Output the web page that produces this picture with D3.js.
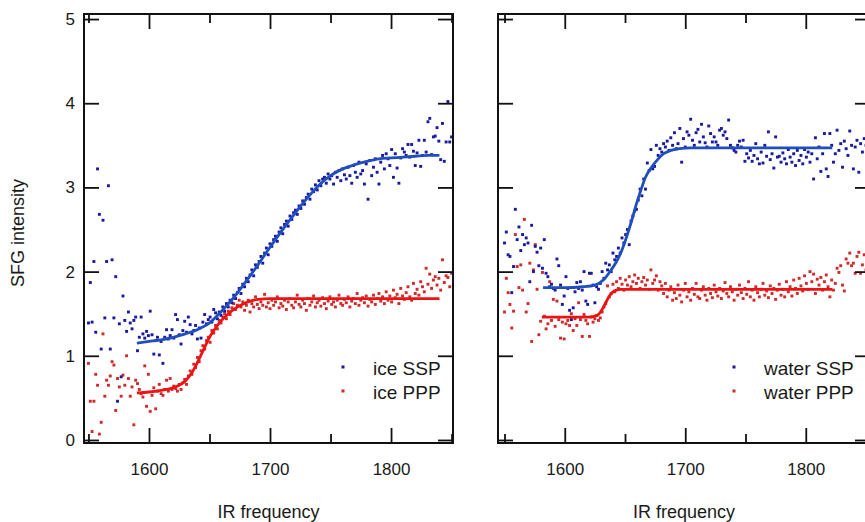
<!DOCTYPE html>
<html>
<head>
<meta charset="utf-8">
<script src="https://cdn.jsdelivr.net/npm/d3@7"></script>
<style>body{margin:0;background:#fff}</style>
</head>
<body>
<div id="chart"></div>
<script>
// measured points, [IR frequency, SFG intensity]
var iceSSP = [
 [1550,1.39],[1551.5,1.87],[1553,1.40],[1554.5,2.12],[1556,1.28],[1557.5,3.22],[1559,2.68],[1560.5,1.08],[1562,2.61],[1563.5,1.45],
 [1565,2.12],[1566.5,3.02],[1568,1.08],[1569.5,2.14],[1571,1.45],[1572.5,1.94],[1574,0.46],[1575.5,1.38],[1577,0.75],[1578.5,1.71],
 [1580,1.42],[1581.5,1.29],[1583,1.52],[1584.5,1.39],[1586,1.32],[1587.5,1.42],[1589,1.46],[1590.5,1.06],[1592,1.22],[1593.5,1.46],
 [1595,1.26],[1596.5,1.21],[1598,1.29],[1599.5,1.24],[1601,1.53],[1602.5,1.25],[1604,1.02],[1605.5,1.18],[1607,1.22],[1608.5,1.01],
 [1610,1.17],[1611.5,0.91],[1613,1.22],[1614.5,1.31],[1616,1.20],[1617.5,1.24],[1619,1.31],[1620.5,1.21],[1622,1.49],[1623.5,1.43],
 [1625,1.25],[1626.5,1.14],[1628,1.30],[1629.5,1.41],[1631,1.28],[1632.5,1.46],[1634,1.37],[1635.5,1.26],[1637,1.30],[1638.5,1.36],
 [1640,1.20],[1641.5,1.33],[1643,1.21],[1644.5,1.40],[1646,1.49],[1647.5,1.38],[1649,1.43],[1650.5,1.46],[1652,1.40],[1653.5,1.55],
 [1655,1.51],[1656.5,1.44],[1658,1.52],[1659.5,1.48],[1661,1.58],[1662.5,1.53],[1664,1.62],[1665.5,1.58],[1667,1.66],[1668.5,1.63],
 [1670,1.72],[1671.5,1.68],[1673,1.75],[1674.5,1.80],[1676,1.74],[1677.5,1.85],[1679,1.82],[1680.5,1.92],[1682,1.88],[1683.5,1.96],
 [1685,2.02],[1686.5,1.95],[1688,2.08],[1689.5,2.05],[1691,2.12],[1692.5,2.18],[1694,2.10],[1695.5,2.22],[1697,2.28],[1698.5,2.20],
 [1700,2.33],[1701.5,2.30],[1703,2.38],[1704.5,2.42],[1706,2.36],[1707.5,2.47],[1709,2.52],[1710.5,2.45],[1712,2.56],[1713.5,2.60],
 [1715,2.54],[1716.5,2.66],[1718,2.62],[1719.5,2.70],[1721,2.73],[1722.5,2.68],[1724,2.78],[1725.5,2.75],[1727,2.84],[1728.5,2.80],
 [1730,2.88],[1731.5,2.92],[1733,2.86],[1734.5,2.98],[1736,2.95],[1737.5,3.03],[1739,2.97],[1740.5,3.08],[1742,3.02],[1743.5,3.10],
 [1745,3.12],[1746.5,3.05],[1748,3.16],[1749.5,3.10],[1751,3.14],[1752.5,3.04],[1754,3.18],[1755.5,3.12],[1757,3.20],[1758.5,3.08],
 [1760,3.22],[1761.5,3.15],[1763,3.10],[1764.5,3.24],[1766,3.14],[1767.5,3.05],[1769,3.26],[1770.5,3.18],[1772,3.12],[1773.5,3.30],
 [1775,3.16],[1776.5,3.20],[1778,3.04],[1779.5,3.28],[1781,2.86],[1782.5,3.32],[1784,3.14],[1785.5,3.24],[1787,3.34],[1788.5,3.18],
 [1790,3.04],[1791.5,3.30],[1793,3.38],[1794.5,3.22],[1796,3.40],[1797.5,3.34],[1799,3.26],[1800.5,3.45],[1802,3.12],[1803.5,3.40],
 [1805,3.23],[1806.5,3.05],[1808,3.35],[1809.5,3.46],[1811,3.42],[1812.5,3.38],[1814,3.51],[1815.5,3.36],[1817,3.51],[1818.5,3.43],
 [1820,3.26],[1821.5,3.41],[1823,3.56],[1824.5,3.25],[1826,3.38],[1827.5,3.56],[1829,3.42],[1830.5,3.78],[1832,3.82],[1833.5,3.39],
 [1835,3.60],[1836.5,3.61],[1838,3.71],[1839.5,3.55],[1841,3.33],[1842.5,3.76],[1844,3.31],[1845.5,3.54],[1847,4.02],[1848.5,3.54],
 [1850,3.60]
];
var icePPP = [
 [1550,0.91],[1551.5,0.46],[1553,0.10],[1554.5,0.46],[1556,0.78],[1557.5,0.65],[1559,0.07],[1560.5,0.21],[1562,1.26],[1563.5,0.52],
 [1565,0.71],[1566.5,0.65],[1568,0.76],[1569.5,0.93],[1571,0.89],[1572.5,0.35],[1574,0.73],[1575.5,0.63],[1577,0.52],[1578.5,0.77],
 [1580,0.65],[1581.5,1.00],[1583,0.73],[1584.5,0.52],[1586,0.63],[1587.5,0.18],[1589,0.71],[1590.5,0.67],[1592,0.60],[1593.5,0.55],
 [1595,0.51],[1596.5,0.88],[1598,0.40],[1599.5,0.78],[1601,0.34],[1602.5,0.53],[1604,0.62],[1605.5,0.37],[1607,0.58],[1608.5,0.66],
 [1610,0.55],[1611.5,0.53],[1613,0.60],[1614.5,0.71],[1616,0.58],[1617.5,0.73],[1619,0.60],[1620.5,0.64],[1622,0.61],[1623.5,0.58],
 [1625,0.66],[1626.5,0.60],[1628,0.68],[1629.5,0.72],[1631,0.66],[1632.5,0.76],[1634,0.82],[1635.5,0.78],[1637,0.90],[1638.5,0.86],
 [1640,0.98],[1641.5,0.93],[1643,1.06],[1644.5,1.12],[1646,1.08],[1647.5,1.18],[1649,1.22],[1650.5,1.16],[1652,1.30],[1653.5,1.27],
 [1655,1.36],[1656.5,1.32],[1658,1.42],[1659.5,1.39],[1661,1.46],[1662.5,1.50],[1664,1.44],[1665.5,1.53],[1667,1.49],[1668.5,1.57],
 [1670,1.62],[1671.5,1.55],[1673,1.60],[1674.5,1.66],[1676,1.58],[1677.5,1.64],[1679,1.54],[1680.5,1.60],[1682,1.66],[1683.5,1.52],
 [1685,1.62],[1686.5,1.58],[1688,1.70],[1689.5,1.61],[1691,1.56],[1692.5,1.64],[1694,1.60],[1695.5,1.73],[1697,1.58],[1698.5,1.63],
 [1700,1.56],[1701.5,1.66],[1703,1.60],[1704.5,1.64],[1706,1.70],[1707.5,1.57],[1709,1.62],[1710.5,1.59],[1712,1.66],[1713.5,1.55],
 [1715,1.64],[1716.5,1.68],[1718,1.60],[1719.5,1.57],[1721,1.64],[1722.5,1.72],[1724,1.61],[1725.5,1.58],[1727,1.66],[1728.5,1.62],
 [1730,1.54],[1731.5,1.68],[1733,1.60],[1734.5,1.64],[1736,1.71],[1737.5,1.58],[1739,1.63],[1740.5,1.66],[1742,1.59],[1743.5,1.69],
 [1745,1.62],[1746.5,1.56],[1748,1.65],[1749.5,1.70],[1751,1.61],[1752.5,1.64],[1754,1.58],[1755.5,1.66],[1757,1.72],[1758.5,1.62],
 [1760,1.60],[1761.5,1.67],[1763,1.63],[1764.5,1.70],[1766,1.58],[1767.5,1.65],[1769,1.68],[1770.5,1.62],[1772,1.74],[1773.5,1.60],
 [1775,1.66],[1776.5,1.69],[1778,1.63],[1779.5,1.71],[1781,1.59],[1782.5,1.67],[1784,1.64],[1785.5,1.72],[1787,1.61],[1788.5,1.68],
 [1790,1.74],[1791.5,1.65],[1793,1.70],[1794.5,1.62],[1796,1.76],[1797.5,1.66],[1799,1.71],[1800.5,1.64],[1802,1.78],[1803.5,1.69],
 [1805,1.73],[1806.5,1.62],[1808,1.80],[1809.5,1.71],[1811,1.67],[1812.5,1.75],[1814,1.82],[1815.5,1.70],[1817,1.66],[1818.5,1.86],
 [1820,1.74],[1821.5,1.79],[1823,1.72],[1824.5,1.88],[1826,1.82],[1827.5,1.76],[1829,2.04],[1830.5,1.85],[1832,1.97],[1833.5,1.80],
 [1835,1.90],[1836.5,1.94],[1838,1.84],[1839.5,1.92],[1841,1.78],[1842.5,2.14],[1844,1.87],[1845.5,1.95],[1847,1.93],[1848.5,1.82],
 [1850,1.98]
];
var waterSSP = [
 [1550,2.34],[1551.5,2.47],[1553,2.20],[1554.5,2.18],[1556,1.75],[1557.5,2.06],[1559,2.74],[1560.5,2.38],[1562,2.53],[1563.5,2.25],
 [1565,2.44],[1566.5,2.32],[1568,2.40],[1569.5,2.34],[1571,1.88],[1572.5,2.55],[1574,2.00],[1575.5,2.30],[1577,2.23],[1578.5,2.07],
 [1580,2.28],[1581.5,2.04],[1583,2.38],[1584.5,1.98],[1586,1.94],[1587.5,1.82],[1589,1.85],[1590.5,1.80],[1592,1.78],[1593.5,2.15],
 [1595,2.07],[1596.5,1.84],[1598,1.61],[1599.5,1.71],[1601,1.94],[1602.5,1.80],[1604,1.54],[1605.5,1.43],[1607,1.57],[1608.5,1.76],
 [1610,1.87],[1611.5,1.80],[1613,1.88],[1614.5,1.78],[1616,2.00],[1617.5,1.65],[1619,1.61],[1620.5,1.98],[1622,1.98],[1623.5,1.84],
 [1625,1.63],[1626.5,1.82],[1628,1.79],[1629.5,1.86],[1631,2.00],[1632.5,1.92],[1634,2.10],[1635.5,2.02],[1637,2.08],[1638.5,2.00],
 [1640,2.22],[1641.5,2.14],[1643,2.18],[1644.5,2.28],[1646,2.22],[1647.5,2.40],[1649,2.34],[1650.5,2.44],[1652,2.50],[1653.5,2.32],
 [1655,2.60],[1656.5,2.66],[1658,2.72],[1659.5,2.74],[1661,2.85],[1662.5,2.98],[1664,2.90],[1665.5,3.10],[1667,2.98],[1668.5,3.29],
 [1670,3.20],[1671.5,3.45],[1673,3.22],[1674.5,3.25],[1676,3.50],[1677.5,3.38],[1679,3.46],[1680.5,3.42],[1682,3.52],[1683.5,3.48],
 [1685,3.55],[1686.5,3.44],[1688,3.59],[1689.5,3.50],[1691,3.65],[1692.5,3.46],[1694,3.52],[1695.5,3.70],[1697,3.30],[1698.5,3.58],
 [1700,3.48],[1701.5,3.66],[1703,3.62],[1704.5,3.81],[1706,3.56],[1707.5,3.50],[1709,3.65],[1710.5,3.69],[1712,3.54],[1713.5,3.75],
 [1715,3.60],[1716.5,3.53],[1718,3.48],[1719.5,3.73],[1721,3.64],[1722.5,3.54],[1724,3.60],[1725.5,3.54],[1727,3.50],[1728.5,3.68],
 [1730,3.70],[1731.5,3.62],[1733,3.66],[1734.5,3.58],[1736,3.80],[1737.5,3.50],[1739,3.47],[1740.5,3.44],[1742,3.42],[1743.5,3.50],
 [1745,3.55],[1746.5,3.48],[1748,3.56],[1749.5,3.31],[1751,3.40],[1752.5,3.35],[1754,3.44],[1755.5,3.31],[1757,3.38],[1758.5,3.52],
 [1760,3.34],[1761.5,3.28],[1763,3.42],[1764.5,3.29],[1766,3.50],[1767.5,3.37],[1769,3.66],[1770.5,3.33],[1772,3.40],[1773.5,3.23],
 [1775,3.60],[1776.5,3.36],[1778,3.37],[1779.5,3.30],[1781,3.41],[1782.5,3.34],[1784,3.28],[1785.5,3.45],[1787,3.36],[1788.5,3.30],
 [1790,3.40],[1791.5,3.26],[1793,3.44],[1794.5,3.32],[1796,3.38],[1797.5,3.28],[1799,3.45],[1800.5,3.36],[1802,3.42],[1803.5,3.30],
 [1805,3.40],[1806.5,3.10],[1808,3.59],[1809.5,3.34],[1811,3.48],[1812.5,3.19],[1814,3.40],[1815.5,3.64],[1817,3.22],[1818.5,3.13],
 [1820,3.64],[1821.5,3.50],[1823,3.30],[1824.5,3.40],[1826,3.68],[1827.5,3.44],[1829,3.52],[1830.5,3.24],[1832,3.55],[1833.5,3.46],
 [1835,3.38],[1836.5,3.67],[1838,3.50],[1839.5,3.22],[1841,3.48],[1842.5,3.56],[1844,3.18],[1845.5,3.52],[1847,3.42],[1848.5,3.58],
 [1850,3.50]
];
var waterPPP = [
 [1550,1.52],[1551.5,1.92],[1553,1.75],[1554.5,1.61],[1556,1.33],[1557.5,1.53],[1559,2.44],[1560.5,2.06],[1562,1.81],[1563.5,2.08],
 [1565,1.78],[1566.5,2.62],[1568,1.52],[1569.5,1.62],[1571,2.10],[1572.5,1.17],[1574,2.02],[1575.5,2.32],[1577,1.79],[1578.5,1.25],
 [1580,1.41],[1581.5,1.99],[1583,1.47],[1584.5,1.32],[1586,1.38],[1587.5,1.88],[1589,1.42],[1590.5,1.67],[1592,1.35],[1593.5,1.65],
 [1595,1.43],[1596.5,1.21],[1598,1.40],[1599.5,1.20],[1601,1.38],[1602.5,1.42],[1604,1.36],[1605.5,1.50],[1607,1.30],[1608.5,1.44],
 [1610,1.36],[1611.5,1.63],[1613,1.43],[1614.5,1.23],[1616,1.49],[1617.5,1.42],[1619,1.38],[1620.5,1.23],[1622,1.46],[1623.5,1.40],
 [1625,1.44],[1626.5,1.48],[1628,1.42],[1629.5,1.45],[1631,1.52],[1632.5,1.58],[1634,1.62],[1635.5,1.83],[1637,1.70],[1638.5,1.74],
 [1640,1.85],[1641.5,1.76],[1643,1.88],[1644.5,1.80],[1646,1.92],[1647.5,1.85],[1649,1.78],[1650.5,1.90],[1652,1.84],[1653.5,1.94],
 [1655,1.82],[1656.5,1.88],[1658,1.96],[1659.5,1.86],[1661,1.92],[1662.5,1.80],[1664,1.88],[1665.5,1.93],[1667,1.84],[1668.5,1.90],
 [1670,1.79],[1671.5,2.02],[1673,1.86],[1674.5,1.90],[1676,1.95],[1677.5,1.78],[1679,1.88],[1680.5,1.83],[1682,1.74],[1683.5,1.86],
 [1685,1.70],[1686.5,1.78],[1688,1.82],[1689.5,1.66],[1691,1.75],[1692.5,1.68],[1694,1.84],[1695.5,1.72],[1697,1.64],[1698.5,1.78],
 [1700,1.86],[1701.5,1.70],[1703,1.76],[1704.5,1.66],[1706,1.80],[1707.5,1.73],[1709,1.86],[1710.5,1.70],[1712,1.68],[1713.5,1.78],
 [1715,1.82],[1716.5,1.72],[1718,1.66],[1719.5,1.80],[1721,1.74],[1722.5,1.69],[1724,1.84],[1725.5,1.76],[1727,1.71],[1728.5,1.80],
 [1730,1.68],[1731.5,1.77],[1733,1.87],[1734.5,1.74],[1736,1.70],[1737.5,1.82],[1739,1.76],[1740.5,1.66],[1742,1.79],[1743.5,1.72],
 [1745,1.84],[1746.5,1.75],[1748,1.68],[1749.5,1.80],[1751,1.73],[1752.5,1.88],[1754,1.70],[1755.5,1.78],[1757,1.66],[1758.5,1.82],
 [1760,1.75],[1761.5,1.70],[1763,1.79],[1764.5,1.86],[1766,1.72],[1767.5,1.77],[1769,1.69],[1770.5,1.83],[1772,1.74],[1773.5,1.80],
 [1775,1.67],[1776.5,1.78],[1778,1.85],[1779.5,1.72],[1781,1.79],[1782.5,1.70],[1784,1.88],[1785.5,1.76],[1787,1.82],[1788.5,1.71],
 [1790,1.90],[1791.5,1.80],[1793,1.74],[1794.5,1.92],[1796,1.83],[1797.5,1.77],[1799,1.95],[1800.5,1.86],[1802,1.79],[1803.5,2.00],
 [1805,1.88],[1806.5,1.97],[1808,1.74],[1809.5,1.91],[1811,1.84],[1812.5,1.93],[1814,1.78],[1815.5,1.88],[1817,1.96],[1818.5,1.82],
 [1820,1.70],[1821.5,1.90],[1823,1.78],[1824.5,1.86],[1826,2.04],[1827.5,1.99],[1829,2.07],[1830.5,1.84],[1832,1.77],[1833.5,2.15],
 [1835,2.10],[1836.5,2.22],[1838,2.07],[1839.5,2.10],[1841,1.98],[1842.5,2.18],[1844,2.23],[1845.5,1.98],[1847,2.08],[1848.5,2.20],
 [1850,2.02]
];

// fitted curves
var iceSSPFit = [[1590,1.15],[1600,1.17],[1610,1.19],[1620,1.22],[1630,1.26],[1640,1.31],[1650,1.39],[1660,1.53],[1670,1.69],
 [1680,1.88],[1690,2.08],[1700,2.29],[1710,2.49],[1720,2.68],[1730,2.86],[1740,3.02],[1750,3.14],[1760,3.22],[1770,3.27],
 [1780,3.31],[1790,3.34],[1800,3.35],[1810,3.36],[1820,3.37],[1830,3.38],[1840,3.38]];
var icePPPFit = [[1590,0.56],[1600,0.57],[1610,0.59],[1620,0.62],[1630,0.70],[1635,0.79],[1640,0.92],[1645,1.07],[1650,1.22],
 [1655,1.33],[1660,1.42],[1665,1.49],[1670,1.55],[1680,1.63],[1690,1.67],[1700,1.68],[1750,1.68],[1800,1.68],[1840,1.68]];
var waterSSPFit = [[1582,1.81],[1600,1.81],[1615,1.82],[1625,1.84],[1632,1.90],[1638,2.01],[1643,2.12],[1647,2.24],[1651,2.40],
 [1655,2.58],[1659,2.78],[1663,2.96],[1667,3.12],[1672,3.24],[1677,3.33],[1682,3.40],[1688,3.44],[1695,3.46],[1705,3.47],[1822,3.47]];
var waterPPPFit = [[1581,1.46],[1600,1.46],[1620,1.46],[1627,1.48],[1631,1.55],[1634,1.63],[1637,1.71],[1641,1.77],[1646,1.79],
 [1660,1.79],[1822,1.79]];

var yTicks = [0, 1, 2, 3, 4, 5];
var xMajor = [1600, 1700, 1800];
var xMinor = [1550, 1650, 1750, 1850];
var iceNames = ["ice SSP", "ice PPP"];
var waterNames = ["water SSP", "water PPP"];

var colorSSP = "#1a1a9e";
var colorSSPLine = "#1f4fbf";
var colorPPP = "#d02a2a";
var colorPPPLine = "#ee1212";
var font = "'Liberation Sans', Arial, sans-serif";

var svg = d3.select("#chart")
	.append("svg")
	.attr("width", 865)
	.attr("height", 522)
	.style("background", "#ffffff");

var y = d3.scaleLinear().domain([-0.036, 5.06]).range([443, 14]);

drawPanel(0, d3.scaleLinear().domain([1546.3, 1851.2]).range([84, 453]),
	iceSSP, icePPP, iceSSPFit, icePPPFit, iceNames, 343, true);
drawPanel(1, d3.scaleLinear().domain([1544.6, 1853.3]).range([498, 870]),
	waterSSP, waterPPP, waterSSPFit, waterPPPFit, waterNames, 734, false);

svg.append("text")
	.attr("transform", "translate(24,233) rotate(-90)")
	.attr("text-anchor", "middle")
	.attr("font-family", font)
	.attr("font-size", 18)
	.attr("fill", "#1a1a1a")
	.text("SFG intensity");

function drawPanel(idx, x, ssp, ppp, sspFit, pppFit, names, legX, showY) {
	var x0 = x.range()[0], x1 = x.range()[1];
	var clipId = "clip" + idx;
	svg.append("clipPath").attr("id", clipId)
		.append("rect")
		.attr("x", x0).attr("y", 14)
		.attr("width", x1 - x0).attr("height", 429);

	var plot = svg.append("g").attr("clip-path", "url(#" + clipId + ")");
	var s = 2.9;

	plot.selectAll(".ppp").data(ppp).enter().append("rect")
		.attr("x", function(d){ return x(d[0]) - s / 2; })
		.attr("y", function(d){ return y(d[1]) - s / 2; })
		.attr("width", s).attr("height", s)
		.attr("fill", colorPPP);
	plot.selectAll(".ssp").data(ssp).enter().append("rect")
		.attr("x", function(d){ return x(d[0]) - s / 2; })
		.attr("y", function(d){ return y(d[1]) - s / 2; })
		.attr("width", s).attr("height", s)
		.attr("fill", colorSSP);

	var line = d3.line()
		.x(function(d){ return x(d[0]); })
		.y(function(d){ return y(d[1]); })
		.curve(d3.curveMonotoneX);
	plot.append("path").datum(pppFit)
		.attr("d", line).attr("fill", "none")
		.attr("stroke", colorPPPLine).attr("stroke-width", 2.8);
	plot.append("path").datum(sspFit)
		.attr("d", line).attr("fill", "none")
		.attr("stroke", colorSSPLine).attr("stroke-width", 2.8);

	// axes, ticks point inward on all four sides
	var axes = [
		{ax: d3.axisBottom(x).tickValues(xMajor).tickSize(-15).tickPadding(20).tickFormat(d3.format("d")), t: "translate(0,443)"},
		{ax: d3.axisBottom(x).tickValues(xMinor).tickSize(-9).tickFormat(""), t: "translate(0,443)"},
		{ax: d3.axisTop(x).tickValues(xMajor).tickSize(-15).tickFormat(""), t: "translate(0,14)"},
		{ax: d3.axisTop(x).tickValues(xMinor).tickSize(-9).tickFormat(""), t: "translate(0,14)"},
		{ax: d3.axisLeft(y).tickValues(yTicks).tickSize(-15).tickPadding(9).tickFormat(showY ? d3.format("d") : ""), t: "translate(" + x0 + ",0)"},
		{ax: d3.axisRight(y).tickValues(yTicks).tickSize(-15).tickFormat(""), t: "translate(" + x1 + ",0)"}
	];
	axes.forEach(function(a){
		var g = svg.append("g").attr("transform", a.t).call(a.ax.tickSizeOuter(0));
		g.select(".domain").remove();
		g.selectAll("line").attr("stroke", "#111").attr("stroke-width", 1.8);
		g.selectAll("text")
			.attr("font-family", font)
			.attr("font-size", 17)
			.attr("fill", "#1a1a1a");
	});

	svg.append("rect")
		.attr("x", x0).attr("y", 14)
		.attr("width", x1 - x0).attr("height", 429)
		.attr("fill", "none")
		.attr("stroke", "#111")
		.attr("stroke-width", 2);

	svg.append("text")
		.attr("x", (x0 + x1) / 2)
		.attr("y", 518)
		.attr("text-anchor", "middle")
		.attr("font-family", font)
		.attr("font-size", 18)
		.attr("fill", "#1a1a1a")
		.text("IR frequency");

	// legend
	var leg = svg.append("g");
	[colorSSP, colorPPP].forEach(function(c, i){
		leg.append("rect")
			.attr("x", legX - 1.5).attr("y", 367 + i * 24 - 1.5)
			.attr("width", 3).attr("height", 3)
			.attr("fill", c);
		leg.append("text")
			.attr("x", legX + 30)
			.attr("y", 375 + i * 24)
			.attr("font-family", font)
			.attr("font-size", 19)
			.attr("fill", "#1a1a1a")
			.text(names[i]);
	});
}
</script>
</body>
</html>
